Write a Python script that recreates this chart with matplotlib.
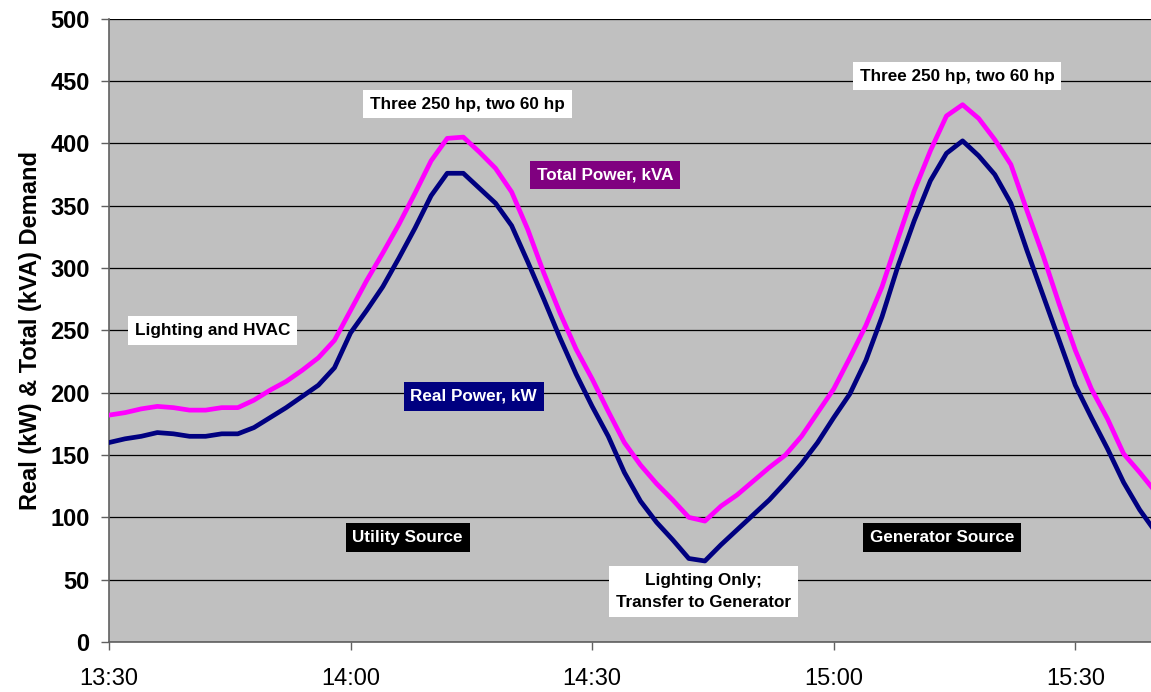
import matplotlib
matplotlib.use('Agg')
import matplotlib.pyplot as plt

# -----------------------------
# data (minutes after 13:30)
# -----------------------------
minutes = list(range(0, 132, 2))

total_kva = [182, 184, 187, 189, 188, 186, 186, 188, 188, 194,
             202, 209, 218, 228, 242, 266, 290, 312, 335, 360,
             386, 404, 405, 393, 380, 361, 331, 296, 264, 235,
             211, 185, 160, 142, 127, 114, 100, 97, 109, 118,
             129, 140, 150, 165, 184, 203, 228, 254, 285, 324,
             362, 394, 422, 431, 420, 403, 383, 346, 310, 271,
             234, 203, 179, 151, 136, 120]

real_kw = [160, 163, 165, 168, 167, 165, 165, 167, 167, 172,
           180, 188, 197, 206, 220, 248, 266, 285, 308, 332,
           358, 376, 376, 364, 352, 334, 305, 275, 244, 215,
           189, 165, 136, 113, 96, 82, 67, 65, 78, 90,
           102, 114, 128, 143, 160, 180, 199, 226, 261, 302,
           338, 370, 392, 402, 390, 375, 352, 314, 278, 242,
           206, 180, 155, 128, 106, 88]

tick_minutes = [0, 30, 60, 90, 120]
tick_labels = ['13:30', '14:00', '14:30', '15:00', '15:30']

plt.rcParams['font.family'] = ['Liberation Sans', 'DejaVu Sans']

# -----------------------------
# figure
# -----------------------------
fig = plt.figure(figsize=(11.51, 6.92), dpi=100)
ax = fig.add_axes([109/1151, 1 - 642/692, 1 - 109/1151, (642 - 18.7)/692])
ax.set_facecolor('#C0C0C0')

ax.plot(minutes, total_kva, color='#FF00FF', lw=3.4, zorder=3, solid_joinstyle='round')
ax.plot(minutes, real_kw, color='#000080', lw=3.4, zorder=3, solid_joinstyle='round')

ax.set_xlim(0, 129.4)
ax.set_ylim(0, 500)
ax.set_yticks(range(0, 501, 50))
ax.set_xticks(tick_minutes)
ax.set_xticklabels(tick_labels)
ax.yaxis.grid(True, color='black', lw=0.9)
ax.set_axisbelow(True)

for s in ['top', 'right']:
    ax.spines[s].set_visible(False)
ax.spines['left'].set_color('#606060')
ax.spines['bottom'].set_color('#606060')
ax.spines['left'].set_linewidth(1.2)
ax.spines['bottom'].set_linewidth(1.2)

ax.tick_params(axis='y', length=6, width=1, color='#606060', pad=8, labelsize=17)
ax.tick_params(axis='x', length=6, width=1, color='#606060', pad=13, labelsize=17)
for t in ax.get_yticklabels():
    t.set_fontweight('bold')

ax.set_ylabel('Real (kW) & Total (kVA) Demand', fontsize=17, fontweight='bold', labelpad=6)

# -----------------------------
# annotations
# -----------------------------
def note(x, y, s, fc, tc, ls=1.2):
    ax.text(x, y, s, ha='center', va='center', fontsize=12.3, fontweight='bold',
            color=tc, zorder=5, linespacing=ls,
            bbox=dict(boxstyle='square,pad=0.4', fc=fc, ec='none'))

note(44.5, 431.5, 'Three 250 hp, two 60 hp', 'white', 'black')
note(105.3, 454, 'Three 250 hp, two 60 hp', 'white', 'black')
note(61.6, 374.5, 'Total Power, kVA', '#800080', 'white')
note(12.9, 250, 'Lighting and HVAC', 'white', 'black')
note(45.3, 197, 'Real Power, kW', '#000080', 'white')
note(37.1, 84, 'Utility Source', 'black', 'white')
note(103.5, 84, 'Generator Source', 'black', 'white')
note(73.8, 40.6, 'Lighting Only;\nTransfer to Generator', 'white', 'black', ls=1.6)

fig.savefig('out.png', dpi=100)
